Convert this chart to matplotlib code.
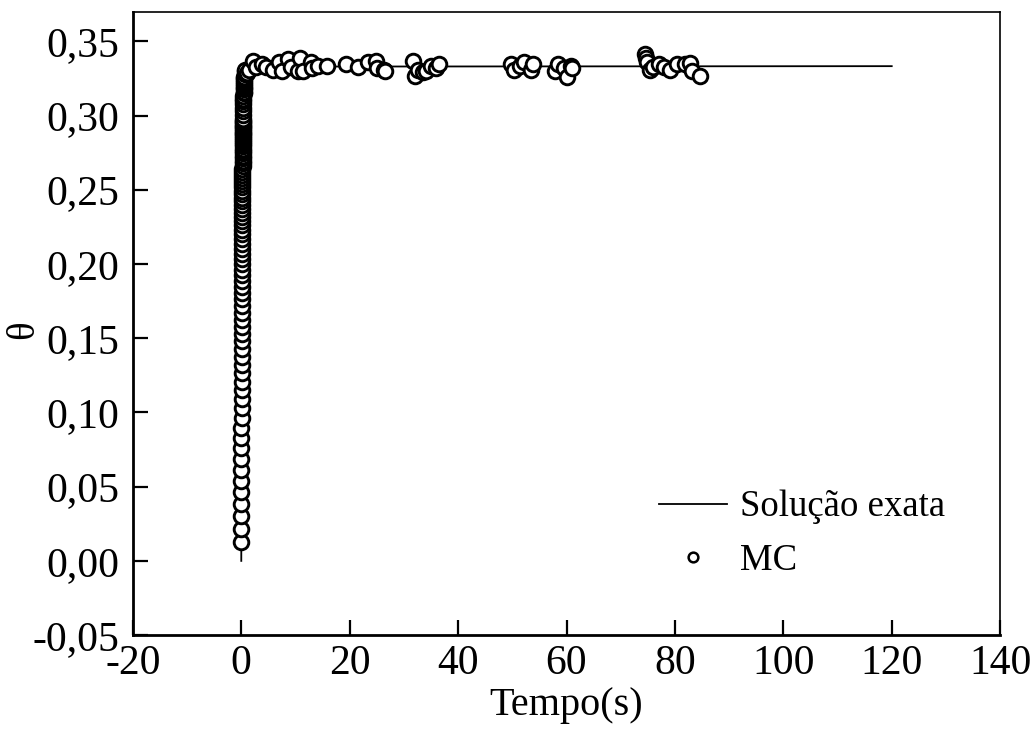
import matplotlib
matplotlib.use("Agg")
import matplotlib.pyplot as plt
from matplotlib.lines import Line2D

plt.rcParams['font.family'] = ['Liberation Serif', 'DejaVu Serif']

# Exact solution (Solução exata)
exact_t = [0.0, 0.05, 0.1, 0.15, 0.2, 0.3, 0.4, 0.5, 0.7, 1.0, 120.0]
exact_theta = [0.0, 0.0967, 0.1653, 0.2140, 0.2487, 0.2906, 0.3118, 0.3225, 0.3306, 0.3330, 0.3333]

# Monte Carlo (MC) - initial rise
mc_rise_t = [0.000, 0.004, 0.008, 0.012, 0.016, 0.020, 0.024, 0.028, 0.032, 0.036,
             0.040, 0.044, 0.048, 0.052, 0.056, 0.060, 0.064, 0.068, 0.072, 0.076,
             0.080, 0.084, 0.088, 0.092, 0.096, 0.100, 0.104, 0.108, 0.112, 0.116,
             0.120, 0.124, 0.128, 0.132, 0.136, 0.140, 0.144, 0.148, 0.152, 0.156,
             0.160, 0.164, 0.168, 0.172, 0.176, 0.180, 0.184, 0.188, 0.192, 0.196,
             0.200, 0.204, 0.208, 0.212, 0.216, 0.220, 0.224, 0.228, 0.232, 0.236,
             0.240, 0.244, 0.248, 0.252, 0.256, 0.260, 0.264, 0.268, 0.272, 0.276,
             0.280, 0.284, 0.288, 0.292, 0.296, 0.300, 0.304, 0.308, 0.312, 0.316,
             0.320, 0.332, 0.344, 0.356, 0.368, 0.380, 0.392, 0.404, 0.420, 0.428,
             0.440, 0.448, 0.460, 0.480, 0.500, 0.520, 0.540, 0.560, 0.600, 0.660,
             0.720]
mc_rise_theta = [0.0130, 0.0216, 0.0300, 0.0382, 0.0462, 0.0540, 0.0615, 0.0688, 0.0760, 0.0829,
                 0.0897, 0.0963, 0.1027, 0.1089, 0.1149, 0.1208, 0.1266, 0.1322, 0.1376, 0.1429,
                 0.1480, 0.1530, 0.1579, 0.1626, 0.1672, 0.1717, 0.1761, 0.1803, 0.1845, 0.1885,
                 0.1924, 0.1962, 0.1999, 0.2035, 0.2070, 0.2104, 0.2137, 0.2170, 0.2201, 0.2232,
                 0.2261, 0.2290, 0.2318, 0.2346, 0.2372, 0.2398, 0.2424, 0.2448, 0.2472, 0.2495,
                 0.2518, 0.2540, 0.2561, 0.2582, 0.2602, 0.2622, 0.2641, 0.2660, 0.2678, 0.2696,
                 0.2713, 0.2730, 0.2746, 0.2762, 0.2777, 0.2792, 0.2807, 0.2821, 0.2835, 0.2848,
                 0.2861, 0.2874, 0.2886, 0.2899, 0.2910, 0.2922, 0.2933, 0.2944, 0.2954, 0.2964,
                 0.2974, 0.3003, 0.3029, 0.3053, 0.3075, 0.3095, 0.3114, 0.3131, 0.3152, 0.3162,
                 0.3176, 0.3184, 0.3196, 0.3213, 0.3229, 0.3242, 0.3253, 0.3263, 0.3280, 0.3298,
                 0.3310]

# Monte Carlo (MC) - plateau
mc_plateau_t = [1.0, 1.5, 2.2, 2.8, 3.9, 4.5, 5.9, 6.9, 7.5, 8.7, 9.1, 10.5, 10.9, 11.3,
                12.8, 13.0, 14.1, 15.9, 19.3, 21.5, 23.3, 24.8, 25.0, 26.3, 26.5,
                31.7, 32.0, 32.6, 33.5, 34.0, 35.0, 36.0, 36.5,
                49.8, 50.4, 51.5, 52.2, 53.5, 53.9, 57.8, 58.5, 59.5, 60.0, 60.9, 61.0,
                74.4, 74.6, 74.8, 75.4, 76.0, 77.0, 78.0, 79.1, 80.4, 81.9, 82.8, 83.1, 84.6]
mc_plateau_theta = [0.3290, 0.3310, 0.3367, 0.3330, 0.3347, 0.3327, 0.3310, 0.3360, 0.3297, 0.3380,
                    0.3327, 0.3300, 0.3390, 0.3300, 0.3360, 0.3320, 0.3333, 0.3333, 0.3347, 0.3327,
                    0.3360, 0.3367, 0.3320, 0.3310, 0.3300,
                    0.3367, 0.3270, 0.3310, 0.3293, 0.3300, 0.3333, 0.3320, 0.3347,
                    0.3347, 0.3310, 0.3335, 0.3360, 0.3310, 0.3347, 0.3300, 0.3347, 0.3320,
                    0.3260, 0.3333, 0.3320,
                    0.3413, 0.3390, 0.3360, 0.3310, 0.3330, 0.3347, 0.3330, 0.3310, 0.3347,
                    0.3347, 0.3353, 0.3300, 0.3267]

x_ticks = [-20, 0, 20, 40, 60, 80, 100, 120, 140]
y_ticks = [-0.05, 0.00, 0.05, 0.10, 0.15, 0.20, 0.25, 0.30, 0.35]
y_ticklabels = ['-0,05', '0,00', '0,05', '0,10', '0,15', '0,20', '0,25', '0,30', '0,35']

fig = plt.figure(figsize=(10.3, 7.3), dpi=100)
ax = fig.add_axes([0.129, 0.130, 0.842, 0.854])

ax.plot(exact_t, exact_theta, color='black', lw=1.3, zorder=2)
mc_t = mc_rise_t + mc_plateau_t
mc_theta = mc_rise_theta + mc_plateau_theta
ax.plot(mc_t, mc_theta, linestyle='none', marker='o', markersize=10.5,
        markerfacecolor='white', markeredgecolor='black', markeredgewidth=2.1, zorder=3)

ax.set_xlim(-20, 140)
ax.set_ylim(-0.05, 0.37)
ax.set_xticks(x_ticks)
ax.set_xticklabels([str(v) for v in x_ticks])
ax.set_yticks(y_ticks)
ax.set_yticklabels(y_ticklabels)
ax.tick_params(direction='in', length=11, width=1.6, labelsize=30, pad=10,
               top=False, right=False)
ax.tick_params(axis='x', pad=7)
ax.spines['left'].set_linewidth(2.0)
ax.spines['bottom'].set_linewidth(2.0)
ax.spines['top'].set_linewidth(1.2)
ax.spines['right'].set_linewidth(1.2)

ax.set_xlabel('Tempo(s)', fontsize=29)
ax.set_ylabel('θ', fontsize=28)
ax.xaxis.set_label_coords(0.5, -0.083)
ax.yaxis.set_label_coords(-0.105, 0.49)

handles = [Line2D([], [], color='black', lw=1.3),
           Line2D([], [], linestyle='none', marker='o', markersize=7,
                  markerfacecolor='white', markeredgecolor='black', markeredgewidth=1.8)]
ax.legend(handles, ['Solução exata', 'MC'], loc='lower left',
          bbox_to_anchor=(0.585, 0.062), frameon=False, fontsize=26.5,
          handlelength=1.85, handletextpad=0.37, labelspacing=0.52, borderpad=0)

fig.savefig('out.png', dpi=100)
